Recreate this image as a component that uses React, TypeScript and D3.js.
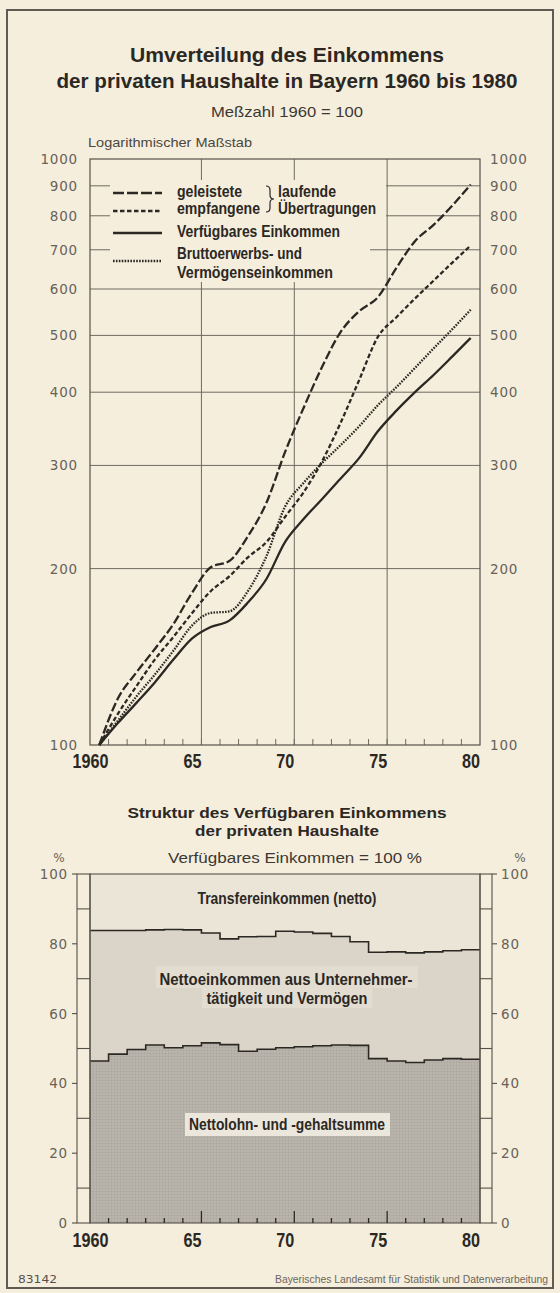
import React from "react";
import * as d3 from "d3";

// Jahre (jeweils ein Band pro Jahr)
const years = [1960, 1961, 1962, 1963, 1964, 1965, 1966, 1967, 1968, 1969, 1970,
  1971, 1972, 1973, 1974, 1975, 1976, 1977, 1978, 1979, 1980];

// Meßzahl 1960 = 100
const geleistete = [100, 120, 133, 146, 161, 182, 201, 206, 227, 259, 316, 376, 442, 507, 550, 581, 652, 724, 772, 832, 905];
const empfangene = [100, 113, 126, 140, 153, 168, 183, 194, 209, 222, 245, 270, 305, 355, 420, 497, 537, 578, 620, 665, 712];
const verfuegbar = [100, 109, 118, 128, 140, 152, 159, 163, 175, 192, 222, 243, 263, 285, 309, 343, 372, 400, 428, 460, 495];
const brutto = [100, 110, 121, 132, 145, 160, 168, 169, 183, 210, 255, 280, 303, 325, 350, 380, 408, 440, 475, 512, 553];

// Struktur in % (Verfügbares Einkommen = 100)
const lohnAnteil = [46.4, 48.4, 49.7, 51.0, 50.2, 50.8, 51.6, 51.1, 49.2, 49.8, 50.2, 50.5, 50.8, 51.0, 50.9, 47.1, 46.4, 46.0, 46.7, 47.1, 46.9];
const unternehmerAnteil = [37.4, 35.4, 34.1, 33.0, 33.9, 33.2, 31.5, 30.3, 32.8, 32.3, 33.4, 32.9, 32.2, 31.1, 29.7, 30.5, 31.3, 31.4, 31.0, 30.9, 31.4];
const transferAnteil = [16.2, 16.2, 16.2, 16.0, 15.9, 16.0, 16.9, 18.6, 18.0, 17.9, 16.4, 16.6, 17.0, 17.9, 19.4, 22.4, 22.3, 22.6, 22.3, 22.0, 21.7];

const logTicks = [100, 200, 300, 400, 500, 600, 700, 800, 900, 1000];
const pctTicks = [0, 20, 40, 60, 80, 100];
const pctMinor = [10, 30, 50, 70, 90];
const yearLabels = [
  {year: 1960, label: "1960"},
  {year: 1965, label: "65"},
  {year: 1970, label: "70"},
  {year: 1975, label: "75"},
  {year: 1980, label: "80"},
];
const majorYears = [1965, 1970, 1975];

const BG = "#f6eedc";
const INK = "#2b2824";
const GRID = "#6e6a61";
const NUMC = "#66625a";
const FONT = "'Liberation Sans', Arial, Helvetica, sans-serif";
const NUMFONT = "'DejaVu Sans', 'Liberation Sans', sans-serif";

function CText(props: any) {
  const {x, y, size = 16, anchor = "start", len, weight = "bold", fill = INK, family = FONT, children} = props;
  return (
    <text x={x} y={y} fontSize={size} fontWeight={weight} fill={fill} fontFamily={family}
          textAnchor={anchor} textLength={len} lengthAdjust={len ? "spacingAndGlyphs" : undefined}>
      {children}
    </text>
  );
}

export default function App() {
  const x = d3.scaleBand<number>().domain(years).range([90, 480]).padding(0);
  const bw = x.bandwidth();
  const xMid = (yr: number) => (x(yr) as number) + bw / 2;
  const xEnd = (yr: number) => (x(yr) as number) + bw;

  const yLog = d3.scaleLog().domain([100, 1000]).range([745, 159]);
  const yPct = d3.scaleLinear().domain([0, 100]).range([1223, 874]);

  const series = [
    {key: "geleistete", values: geleistete, dash: "9 3"},
    {key: "empfangene", values: empfangene, dash: "4.5 2.5"},
    {key: "verfuegbar", values: verfuegbar, dash: undefined},
    {key: "brutto", values: brutto, dash: "1.6 1.3"},
  ];

  const line = d3.line<number>()
    .x((_, i) => xMid(years[i]))
    .y((v) => yLog(v))
    .curve(d3.curveMonotoneX);

  // gestapelte Anteile
  const rows = years.map((yr, i) => ({
    year: yr,
    lohn: lohnAnteil[i],
    unternehmer: unternehmerAnteil[i],
    transfer: transferAnteil[i],
  }));
  const stacked = d3.stack<any>().keys(["lohn", "unternehmer", "transfer"])(rows);

  const stepPts = (layer: any) => {
    const pts = layer.map((d: any, i: number) => ({x: x(years[i]) as number, y0: d[0], y1: d[1]}));
    const last = pts[pts.length - 1];
    pts.push({x: xEnd(years[years.length - 1]), y0: last.y0, y1: last.y1});
    return pts;
  };
  const area = d3.area<any>().x((d) => d.x).y0((d) => yPct(d.y0)).y1((d) => yPct(d.y1)).curve(d3.curveStepAfter);
  const stepLine = d3.line<any>().x((d) => d.x).y((d) => yPct(d.y1)).curve(d3.curveStepAfter);
  const fills = ["url(#stip)", "#dbd5c9", "#ebe5d8"];

  const tickYears = years.slice(0, years.length - 1);

  return (
    <svg width={560} height={1293} style={{position: "absolute", left: 0, top: 0, display: "block"}}>
      <defs>
        <pattern id="stip" width="3" height="3" patternUnits="userSpaceOnUse">
          <rect width="3" height="3" fill="#b6b1a8" />
          <rect width="1" height="1" fill="#a8a39a" />
          <rect x="1.5" y="1.5" width="1" height="1" fill="#c2bdb4" />
        </pattern>
      </defs>
      <rect width={560} height={1293} fill={BG} />
      <rect x={7} y={10} width={546} height={1278} fill="none" stroke="#5f5b53" strokeWidth={2} />

      {/* Titel */}
      <CText x={287} y={61.5} size={21} anchor="middle" len={314}>Umverteilung des Einkommens</CText>
      <CText x={287} y={88} size={21} anchor="middle" len={461}>der privaten Haushalte in Bayern 1960 bis 1980</CText>
      <CText x={287} y={116.5} size={15} anchor="middle" weight="normal" fill="#3b3833" len={152}>Meßzahl 1960 = 100</CText>
      <CText x={88} y={147} size={13.5} weight="normal" fill="#4a4740" len={164}>Logarithmischer Maßstab</CText>

      {/* oberes Diagramm: Gitter */}
      <g stroke={GRID} strokeWidth={1} fill="none">
        {logTicks.slice(1, -1).map((t) => (
          <line key={t} x1={90} x2={480} y1={yLog(t)} y2={yLog(t)} />
        ))}
        {majorYears.map((yr) => (
          <line key={yr} x1={xEnd(yr)} x2={xEnd(yr)} y1={159} y2={745} />
        ))}
        {tickYears.map((yr) => (
          <line key={yr} x1={xEnd(yr)} x2={xEnd(yr)} y1={745} y2={739} />
        ))}
      </g>

      {/* Legendenhintergrund */}
      <rect x={110} y={180} width={276} height={42} fill={BG} />
      <rect x={110} y={222} width={260} height={60} fill={BG} />

      <rect x={90} y={159} width={390} height={586} fill="none" stroke="#55514a" strokeWidth={1.2} />

      {/* y-Beschriftung logarithmisch */}
      {logTicks.map((t) => (
        <g key={t} fontFamily={NUMFONT} fontSize={13.5} fill={NUMC} letterSpacing={0.8}>
          <text x={78} y={yLog(t) + 5} textAnchor="end">{t}</text>
          <text x={490} y={yLog(t) + 5}>{t}</text>
        </g>
      ))}

      {/* Linien */}
      {series.map((s) => (
        <path key={s.key} d={line(s.values) as string} fill="none" stroke={INK} strokeWidth={2.3}
              strokeDasharray={s.dash} strokeLinejoin="round" />
      ))}

      {/* Legende */}
      <g stroke={INK} strokeWidth={2.3}>
        <line x1={113} x2={162} y1={193} y2={193} strokeDasharray="11 3" />
        <line x1={113} x2={162} y1={211} y2={211} strokeDasharray="4.5 2.5" />
        <line x1={113} x2={162} y1={233} y2={233} />
        <line x1={113} x2={162} y1={261} y2={261} strokeDasharray="1.6 1.3" />
      </g>
      <CText x={177} y={197} size={16} len={65}>geleistete</CText>
      <CText x={177} y={214} size={16} len={83}>empfangene</CText>
      <CText x={278} y={197} size={16} len={58}>laufende</CText>
      <CText x={278} y={214} size={16} len={98}>Übertragungen</CText>
      <path d="M266,186 q4,0 4,4 v5 q0,4 4,4 q-4,0 -4,4 v5 q0,4 -4,4" fill="none" stroke={INK} strokeWidth={1.2} />
      <CText x={177} y={237} size={16} len={163}>Verfügbares Einkommen</CText>
      <CText x={177} y={259} size={16} len={125}>Bruttoerwerbs- und</CText>
      <CText x={177} y={278} size={16} len={156}>Vermögenseinkommen</CText>

      {/* x-Beschriftung oben */}
      {yearLabels.map((d) => (
        <text key={d.year} transform={`translate(${xEnd(d.year)},768) scale(0.77,1)`} textAnchor="end"
              fontSize={21} fontWeight="bold" fontFamily={FONT} fill={INK}>{d.label}</text>
      ))}

      {/* unteres Diagramm */}
      <CText x={287} y={818} size={15.5} anchor="middle" len={319}>Struktur des Verfügbaren Einkommens</CText>
      <CText x={287} y={836} size={15.5} anchor="middle" len={184}>der privaten Haushalte</CText>
      <CText x={295} y={863} size={14} anchor="middle" weight="normal" fill="#3b3833" len={254}>Verfügbares Einkommen = 100 %</CText>

      {stacked.map((layer, i) => (
        <path key={layer.key} d={area(stepPts(layer)) as string} fill={fills[i]} />
      ))}
      {stacked.slice(0, 2).map((layer) => (
        <path key={"l" + layer.key} d={stepLine(stepPts(layer)) as string} fill="none" stroke={INK} strokeWidth={1.6} />
      ))}

      {/* Beschriftungsfelder */}
      <rect x={156} y={966} width={262} height={22} fill="#e3ddd1" />
      <rect x={202} y={988} width={170} height={20} fill="#e3ddd1" />
      <rect x={185} y={1113} width={205} height={23} fill="#ece7dc" />
      <CText x={287} y={904} size={16} anchor="middle" len={179}>Transfereinkommen (netto)</CText>
      <CText x={286} y={985} size={16} anchor="middle" len={253}>Nettoeinkommen aus Unternehmer-</CText>
      <CText x={287} y={1004} size={16} anchor="middle" len={161}>tätigkeit und Vermögen</CText>
      <CText x={287} y={1130} size={16} anchor="middle" len={196}>Nettolohn- und -gehaltsumme</CText>

      {/* Seitenleisten */}
      <g stroke="#55514a" strokeWidth={1.1} fill="none">
        <rect x={77} y={874} width={13} height={349} />
        <rect x={480} y={874} width={12} height={349} />
        {pctMinor.map((t) => (
          <g key={t}>
            <line x1={77} x2={90} y1={yPct(t)} y2={yPct(t)} />
            <line x1={480} x2={492} y1={yPct(t)} y2={yPct(t)} />
          </g>
        ))}
        {pctTicks.map((t) => (
          <g key={t}>
            <line x1={72} x2={77} y1={yPct(t)} y2={yPct(t)} />
            <line x1={492} x2={497} y1={yPct(t)} y2={yPct(t)} />
          </g>
        ))}
        <rect x={90} y={874} width={390} height={349} />
      </g>
      <g stroke={INK} strokeWidth={1.3}>
        {tickYears.map((yr) => (
          <line key={yr} x1={xEnd(yr)} x2={xEnd(yr)} y1={1223}
                y2={majorYears.includes(yr) ? 1211 : 1218} />
        ))}
      </g>

      {pctTicks.map((t) => (
        <g key={t} fontFamily={NUMFONT} fontSize={13.5} fill={NUMC} letterSpacing={0.8}>
          <text x={68} y={yPct(t) + 5} textAnchor="end">{t}</text>
          <text x={501} y={yPct(t) + 5}>{t}</text>
        </g>
      ))}
      <text x={59} y={862} textAnchor="middle" fontFamily={NUMFONT} fontSize={12} fill={NUMC}>%</text>
      <text x={520} y={862} textAnchor="middle" fontFamily={NUMFONT} fontSize={12} fill={NUMC}>%</text>

      {yearLabels.map((d) => (
        <text key={d.year} transform={`translate(${xEnd(d.year)},1247) scale(0.77,1)`} textAnchor="end"
              fontSize={21} fontWeight="bold" fontFamily={FONT} fill={INK}>{d.label}</text>
      ))}

      {/* Fußzeile */}
      <CText x={18} y={1283} size={11} weight="normal" fill="#55514a" family={NUMFONT} len={39}>83142</CText>
      <CText x={548} y={1283} size={10.5} anchor="end" weight="normal" fill="#6a665e" len={273}>Bayerisches Landesamt für Statistik und Datenverarbeitung</CText>
    </svg>
  );
}
